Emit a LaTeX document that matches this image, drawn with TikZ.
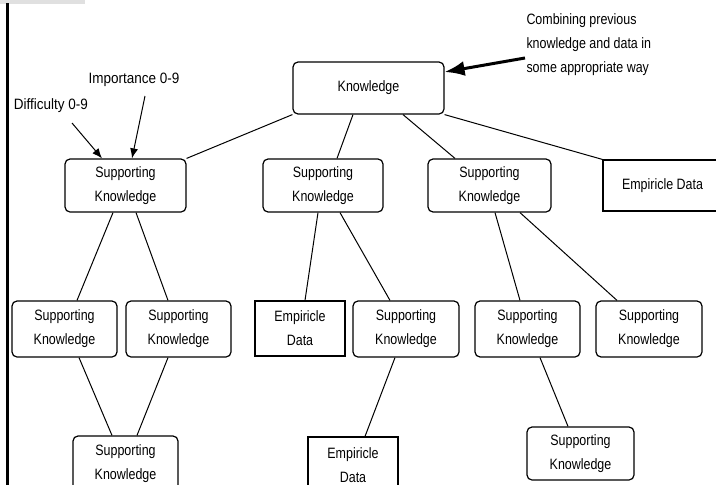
\documentclass[tikz,border=0pt]{standalone}
\usepackage{fontspec}
\setmainfont{Liberation Sans}[FakeStretch=0.83]
\newfontfamily\notefont{Liberation Sans}[FakeStretch=0.9]
\usetikzlibrary{arrows.meta}

\begin{document}
\begin{tikzpicture}[x=1pt, y=-1pt, line width=1pt,
      every node/.append style={font=\fontsize{15}{24}\selectfont, align=center, inner sep=0pt}]
    \tikzstyle{sk} = [draw, rounded corners=5pt, line width=1.2pt, minimum width=105pt, minimum height=56pt]
    \tikzstyle{data} = [draw, line width=1.1pt, minimum width=90pt, minimum height=56pt]
    \tikzstyle{note} = [-{Latex[length=10pt,width=8pt]}, line width=1pt]
    \clip (0,0) rectangle (716,485);
    \fill[black!12] (0,0) rectangle (85,4);
    \draw[line width=3pt] (7.5,3) -- (7.5,485);
    \node (K) [sk, minimum width=151pt, minimum height=52pt] at (368.5,88) {Knowledge};
    \node (S1) [sk, minimum width=121pt, minimum height=53pt] at (125.5,185.5) {Supporting\\Knowledge};
    \node (S2) [sk, minimum width=120pt, minimum height=53pt] at (323,185.5) {Supporting\\Knowledge};
    \node (S3) [sk, minimum width=123pt, minimum height=53pt] at (489.5,185.5) {Supporting\\Knowledge};
    \node (E1) [data, minimum width=119pt, minimum height=51pt] at (662.5,185.5) {Empiricle Data};
    \node (S4) [sk] at (64.5,329) {Supporting\\Knowledge};
    \node (S5) [sk] at (178.5,329) {Supporting\\Knowledge};
    \node (E2) [data, minimum height=55pt] at (300,328.5) {Empiricle\\Data};
    \node (S6) [sk, minimum width=106pt] at (406,329) {Supporting\\Knowledge};
    \node (S7) [sk] at (527.5,329) {Supporting\\Knowledge};
    \node (S8) [sk, minimum width=106pt] at (649,329) {Supporting\\Knowledge};
    \node (S9) [sk] at (125.5,464) {Supporting\\Knowledge};
    \node (E3) [data] at (353,465) {Empiricle\\Data};
    \node (S10) [sk, minimum width=107pt, minimum height=53pt] at (580.5,453.5) {Supporting\\Knowledge};
    \draw (K.south west) -- (S1.north east);
    \draw ([xshift=-15.5pt]K.south) -- ([xshift=14pt]S2.north);
    \draw ([xshift=34.5pt]K.south) -- ([xshift=-34.5pt]S3.north);
    \draw (K.south east) -- (E1.north west);
    \draw ([xshift=-12.5pt]S1.south) -- ([xshift=12.5pt]S4.north);
    \draw ([xshift=10.5pt]S1.south) -- ([xshift=-10.5pt]S5.north);
    \draw ([xshift=14.5pt]S4.south) -- ([xshift=-13.5pt]S9.north);
    \draw ([xshift=-10.5pt]S5.south) -- ([xshift=11.5pt]S9.north);
    \draw ([xshift=-5pt]S2.south) -- ([xshift=5pt]E2.north);
    \draw ([xshift=17pt]S2.south) -- ([xshift=-16pt]S6.north);
    \draw ([xshift=5.5pt]S3.south) -- ([xshift=-7.5pt]S7.north);
    \draw ([xshift=30.5pt]S3.south) -- ([xshift=-32pt]S8.north);
    \draw ([xshift=-11pt]S6.south) -- ([xshift=12pt]E3.north);
    \draw ([xshift=12.5pt]S7.south) -- ([xshift=-12.5pt]S10.north);
    \node (diff) [font=\notefont\fontsize{15}{24}\selectfont] at (51,106) {Difficulty 0-9};
    \node (imp) [font=\notefont\fontsize{15}{24}\selectfont] at (134,80) {Importance 0-9};
    \node (comb) [anchor=north west, align=left] at (526,13) {Combining previous\\knowledge and data in\\some appropriate way};
    \coordinate (difftail) at (72,123);
    \coordinate (imptail) at (145,96);
    \coordinate (combtail) at (525,58);
    \draw[note] (difftail) -- ([xshift=-23.5pt]S1.north);
    \draw[note] (imptail) -- ([xshift=6.5pt]S1.north);
    \draw[-{Latex[length=20pt,width=15pt]}, line width=3pt] (combtail) -- ([yshift=16pt]K.east);
\end{tikzpicture}
\end{document}
